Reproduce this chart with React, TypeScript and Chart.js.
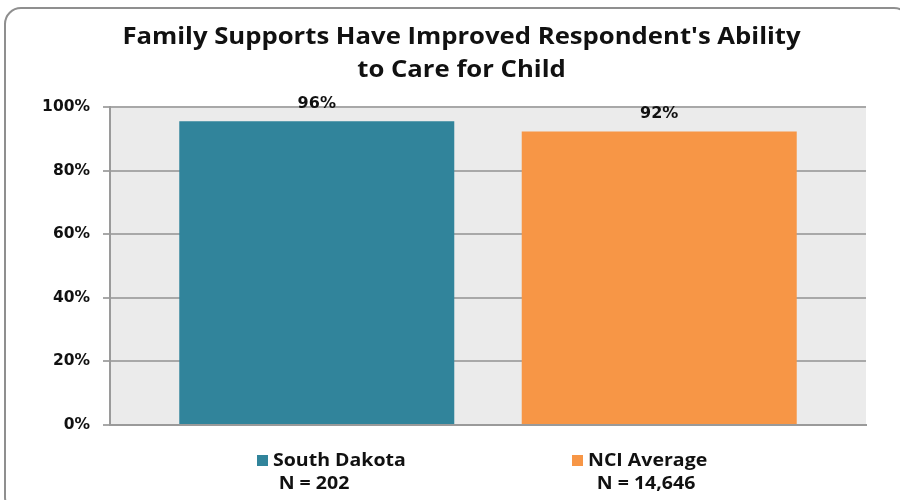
import React, { useEffect, useRef } from "react";
import { Chart, registerables } from "chart.js";

Chart.register(...registerables);

const titleLines = ["Family Supports Have Improved Respondent's Ability", "to Care for Child"];
const categories = [""];
const seriesNames = ["South Dakota", "NCI Average"];
const seriesN = ["N = 202", "N = 14,646"];
const southDakota = [95.5];
const nciAverage = [92.3];
const seriesColors = ["#31849B", "#F79646"];
const yTicks = [0, 20, 40, 60, 80, 100];

function stretchedText(ctx: any, text: string, x: number, y: number, sx: number, align: string) {
  ctx.save();
  ctx.translate(x, y);
  ctx.scale(sx, 1);
  ctx.textAlign = align;
  ctx.fillText(text, 0, 0);
  ctx.restore();
}

const decorPlugin = {
  id: "decor",
  beforeDraw(chart: any) {
    const { ctx, chartArea } = chart;
    ctx.save();
    ctx.fillStyle = "#EBEBEB";
    ctx.fillRect(chartArea.left, chartArea.top, chartArea.right - chartArea.left, chartArea.bottom - chartArea.top);
    ctx.restore();
  },
  afterDraw(chart: any) {
    const { ctx } = chart;
    ctx.save();
    // outer rounded frame
    ctx.strokeStyle = "#8f8f8f";
    ctx.lineWidth = 2;
    ctx.beginPath();
    (ctx as any).roundRect(5, 8, 905, 505, 16);
    ctx.stroke();

    // title
    ctx.fillStyle = "#111";
    ctx.textBaseline = "alphabetic";
    ctx.font = "bold 24px 'Open Sans'";
    stretchedText(ctx, titleLines[0], 461.5, 44, 1.07, "center");
    stretchedText(ctx, titleLines[1], 461.5, 77, 1.07, "center");

    // data labels
    ctx.textAlign = "center";
    ctx.font = "bold 16px 'DejaVu Sans'";
    chart.data.datasets.forEach((ds: any, i: number) => {
      const meta = chart.getDatasetMeta(i);
      meta.data.forEach((bar: any, j: number) => {
        const v = ds.data[j];
        ctx.fillText(Math.round(v) + "%", bar.x, bar.y - 13);
      });
    });

    // legend
    const legendX = [257, 572];
    const nCenters = [314, 646];
    ctx.font = "bold 18px 'Open Sans'";
    seriesNames.forEach((name, i) => {
      const x0 = legendX[i];
      ctx.fillStyle = seriesColors[i];
      ctx.fillRect(x0, 455, 11, 11);
      ctx.fillStyle = "#111";
      stretchedText(ctx, name, x0 + 16, 466, 1.085, "left");
      stretchedText(ctx, seriesN[i], nCenters[i], 489, 1.085, "center");
    });
    ctx.restore();
  },
};

export default function App() {
  const ref = useRef<HTMLCanvasElement>(null);
  useEffect(() => {
    if (!ref.current) return;
    const chart = new Chart(ref.current, {
      type: "bar",
      data: {
        labels: categories,
        datasets: [
          { label: seriesNames[0], data: southDakota, backgroundColor: seriesColors[0] },
          { label: seriesNames[1], data: nciAverage, backgroundColor: seriesColors[1] },
        ],
      },
      options: {
        animation: false,
        responsive: true,
        maintainAspectRatio: false,
        datasets: { bar: { categoryPercentage: 0.906, barPercentage: 0.803 } },
        layout: { padding: { left: 0, right: 34, top: 107, bottom: 75 } },
        plugins: { legend: { display: false }, title: { display: false }, tooltip: { enabled: false } },
        scales: {
          x: {
            ticks: { display: false },
            grid: { display: false },
            border: { display: true, color: "#9a9a9a", width: 2 },
            afterFit(scale: any) { scale.height = 0; },
          },
          y: {
            min: 0,
            max: 100,
            afterBuildTicks(scale: any) { scale.ticks = yTicks.map((v) => ({ value: v })); },
            ticks: {
              callback: (v: any) => v + "%",
              font: { family: "DejaVu Sans", weight: "bold", size: 15.5 },
              color: "#111",
              padding: 13,
            },
            grid: { color: "#a8a8a8", lineWidth: 2, tickLength: 7 },
            border: { display: true, color: "#9a9a9a", width: 2 },
            afterFit(scale: any) { scale.width = 110; },
          },
        },
      },
      plugins: [decorPlugin],
    });
    return () => chart.destroy();
  }, []);
  return (
    <div style={{ position: "fixed", left: 0, top: 0, width: 900, height: 500, background: "#fff" }}>
      <canvas ref={ref} />
    </div>
  );
}
